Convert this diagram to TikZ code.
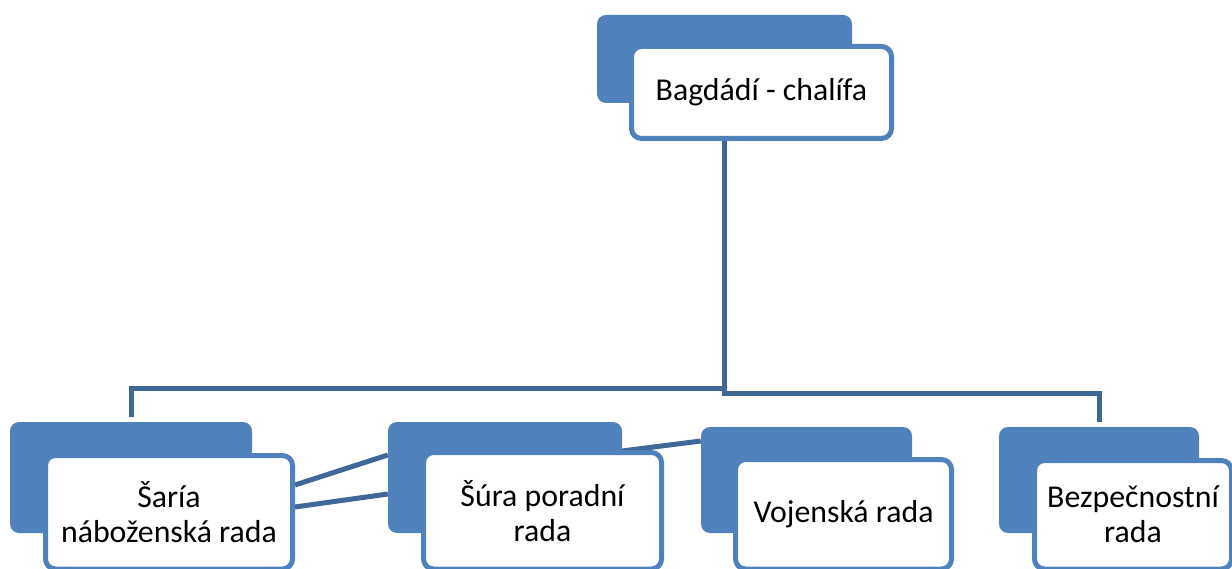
\documentclass[tikz,border=0pt]{standalone}
\usepackage{fontspec}
\setmainfont{Carlito}
\usetikzlibrary{calc}
\definecolor{smblue}{HTML}{4F81BD}
\definecolor{linecol}{HTML}{3F6899}
\pgfdeclarelayer{lines}
\pgfsetlayers{lines,main}
\tikzset{
  backbox/.style={fill=smblue, draw=none, rounded corners=9pt, inner sep=0pt, minimum width=#1},
  frontbox/.style={fill=white, draw=smblue, line width=5pt, rounded corners=10pt, inner sep=0pt, align=center,
    font=\fontsize{31.8}{35}\selectfont, text=black},
  conn/.style={draw=linecol, line width=5pt}
}
\begin{document}
\begin{tikzpicture}[x=1pt, y=-1pt]
\useasboundingbox (0,0) rectangle (1232,569);
\clip (0,0) rectangle (1232,569);
% back boxes
\node[backbox=255pt, minimum height=88pt] (tb) at (724.5,59) {};
\node[backbox=242pt, minimum height=111pt] (b1) at (131,477.5) {};
\node[backbox=234pt, minimum height=111pt] (b2) at (505,477.5) {};
\node[backbox=211pt, minimum height=106pt] (b3) at (806.5,480) {};
\node[backbox=200pt, minimum height=106pt] (b4) at (1099,480) {};
% front boxes
\node[frontbox, minimum width=260pt, minimum height=92pt] (tf) at (761.5,92.5) {Bagdádí - chalífa};
\node[frontbox, minimum width=247pt, minimum height=113.5pt] (f1) at (169,512.25) {Šaría\\náboženská rada};
\node[frontbox, minimum width=238pt, minimum height=116.5pt] (f2) at (542.5,510.75) {Šúra poradní\\rada};
\node[frontbox, minimum width=216pt, minimum height=109.5pt] (f3) at (843.5,514.25) {Vojenská rada};
\node[frontbox, minimum width=197pt, minimum height=108.5pt] (f4) at (1133,514.75) {Bezpečnostní\\rada};
% connectors, behind the boxes
\coordinate (hub) at (tb.center |- 0,393.5);
\coordinate (hubl) at (tb.center |- 0,388.5);
\coordinate (l1) at ($(b1.north)+(0,-5)$);
\coordinate (l4) at ($(b4.north)+(0,-5)$);
\begin{pgfonlayer}{lines}
\draw[conn] (tb.center |- tf.south) -- (hub) -- (hub -| l4) -- (l4);
\draw[conn] (hubl) -- (hubl -| l1) -- (l1);
\draw[conn] ($(f1.east)+(0,-27.25)$) -- ($(b2.west)+(0,-22.5)$);
\draw[conn] ($(f1.east)+(0,-5.25)$) -- ($(b2.west)+(0,16.5)$);
\draw[conn] ($(b2.east)+(0,-26.5)$) -- ($(b3.west)+(0,-39)$);
\end{pgfonlayer}
\end{tikzpicture}
\end{document}
